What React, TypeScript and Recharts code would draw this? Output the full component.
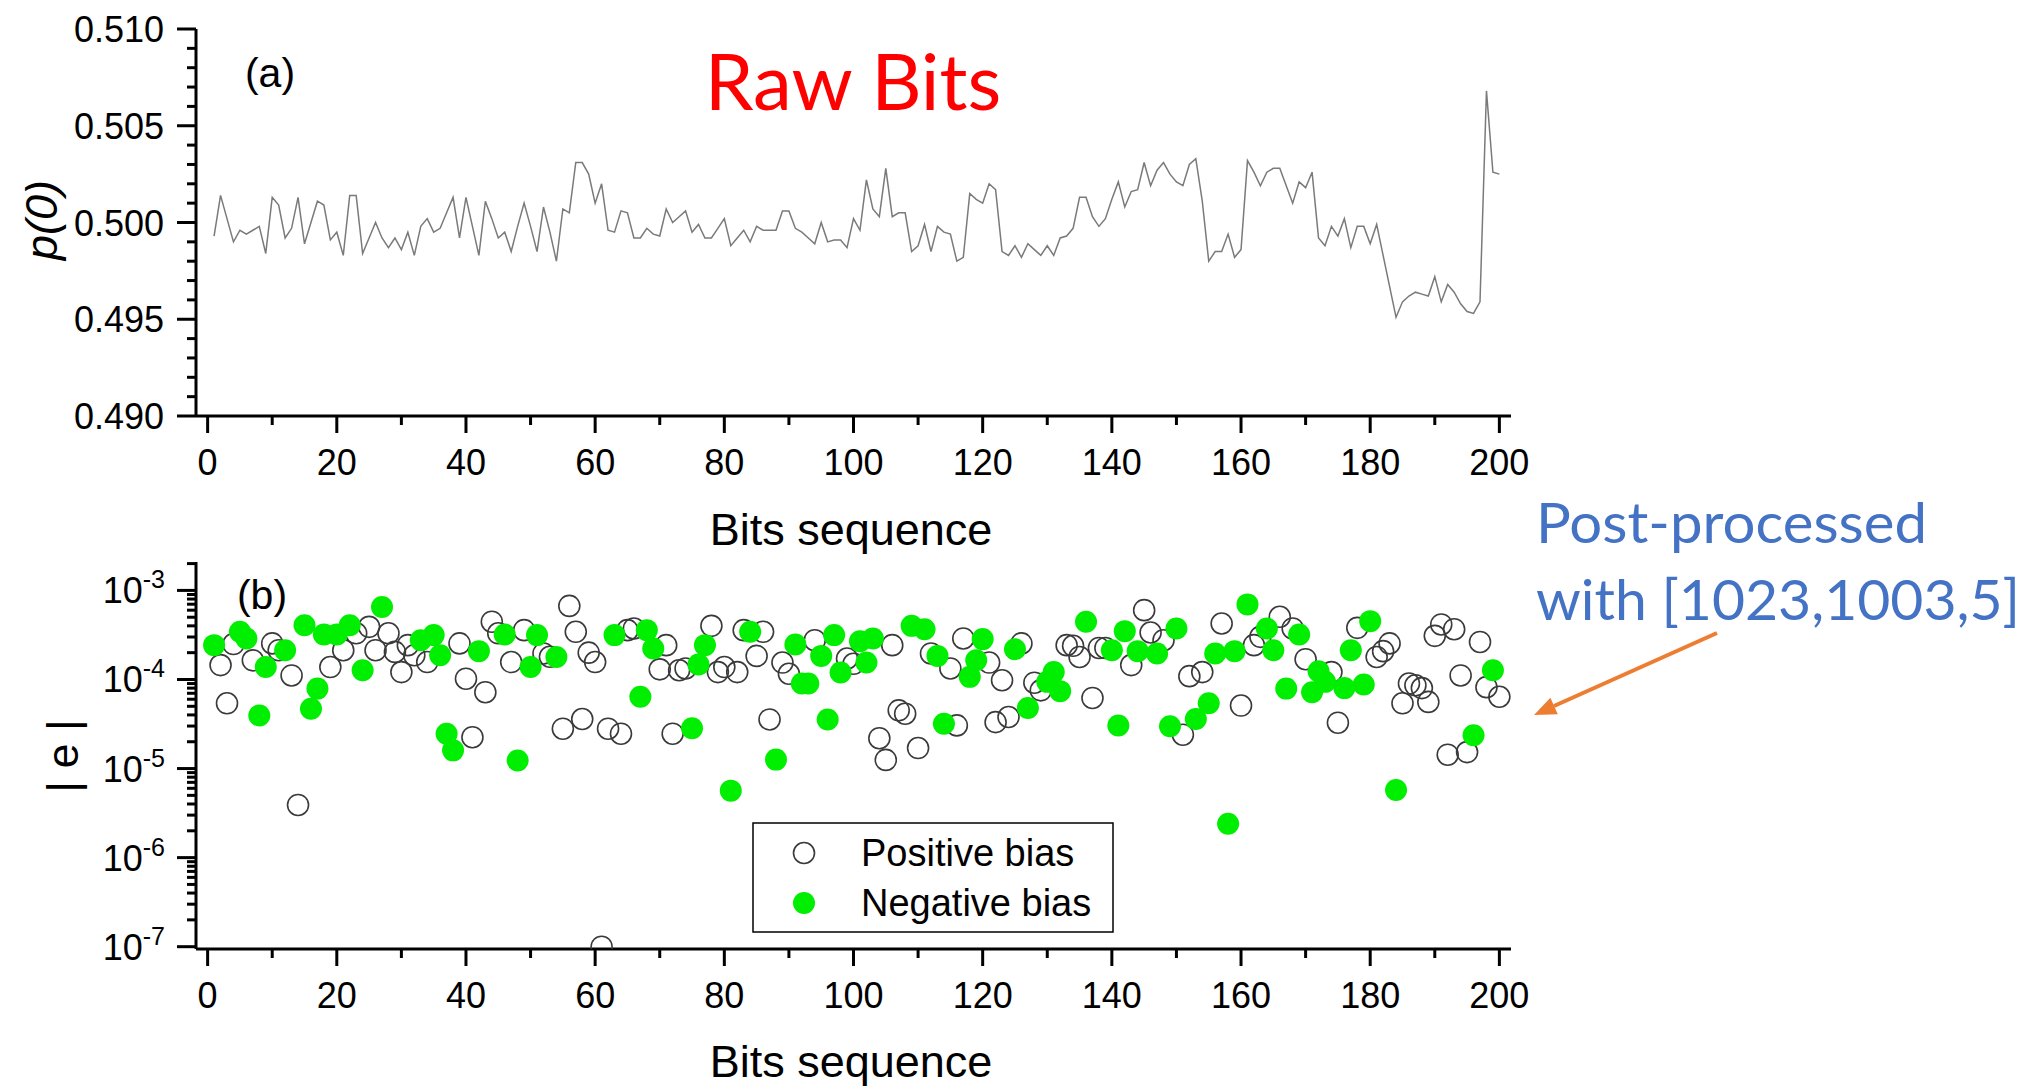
import React from 'react';
import { LineChart, Line, ScatterChart, Scatter, XAxis, YAxis } from 'recharts';

const AXIS_FONT = "'Liberation Sans', Arial, Helvetica, sans-serif";
const NOTE_FONT = "Lato, 'Open Sans', sans-serif";

// (a) p(0) of the raw bits, blocks 1..200
const pZero = [
  0.4993, 0.5014, 0.5002, 0.4990, 0.4996, 0.4994, 0.4996, 0.4998, 0.4984, 0.5013,
  0.5009, 0.4992, 0.4997, 0.5013, 0.4989, 0.5000, 0.5011, 0.5009, 0.4991, 0.4995,
  0.4983, 0.5014, 0.5014, 0.4984, 0.4992, 0.5000, 0.4992, 0.4987, 0.4992, 0.4986,
  0.4995, 0.4983, 0.4998, 0.5002, 0.4995, 0.4997, 0.5005, 0.5013, 0.4992, 0.5013,
  0.4998, 0.4983, 0.5011, 0.5002, 0.4992, 0.4995, 0.4985, 0.4998, 0.5010, 0.4998,
  0.4985, 0.5008, 0.4995, 0.4980, 0.5007, 0.5005, 0.5031, 0.5031, 0.5025, 0.5010,
  0.5020, 0.4996, 0.4995, 0.5006, 0.5005, 0.4992, 0.4992, 0.4997, 0.4994, 0.4993,
  0.5007, 0.5000, 0.5003, 0.5006, 0.4995, 0.4999, 0.4992, 0.4992, 0.4997, 0.5002,
  0.4988, 0.4992, 0.4996, 0.4990, 0.4998, 0.4996, 0.4996, 0.4996, 0.5006, 0.5006,
  0.4997, 0.4995, 0.4992, 0.4989, 0.5000, 0.4990, 0.4991, 0.4991, 0.4987, 0.5002,
  0.4996, 0.5022, 0.5007, 0.5003, 0.5028, 0.5003, 0.5005, 0.5005, 0.4985, 0.4988,
  0.4999, 0.4985, 0.4998, 0.4995, 0.4994, 0.4980, 0.4982, 0.5015, 0.5012, 0.5010,
  0.5020, 0.5017, 0.4985, 0.4983, 0.4988, 0.4982, 0.4989, 0.4986, 0.4983, 0.4988,
  0.4983, 0.4992, 0.4993, 0.4997, 0.5013, 0.5013, 0.5003, 0.4998, 0.5002, 0.5012,
  0.5021, 0.5008, 0.5016, 0.5017, 0.5031, 0.5019, 0.5027, 0.5031, 0.5025, 0.5021,
  0.5019, 0.5030, 0.5033, 0.5011, 0.4980, 0.4985, 0.4985, 0.4994, 0.4982, 0.4986,
  0.5032, 0.5026, 0.5019, 0.5026, 0.5028, 0.5028, 0.5019, 0.5010, 0.5021, 0.5018,
  0.5026, 0.4992, 0.4988, 0.4998, 0.4993, 0.5002, 0.4987, 0.4998, 0.4998, 0.4989,
  0.4999, 0.4983, 0.4967, 0.4951, 0.4959, 0.4962, 0.4964, 0.4963, 0.4962, 0.4972,
  0.4959, 0.4968, 0.4964, 0.4958, 0.4954, 0.4953, 0.4959, 0.5068, 0.5026, 0.5025,
];

// (b) |e| after post-processing, blocks 1..200
const biasAbs = [
  2.43e-4, 1.45e-4, 5.4e-5, 2.5e-4, 3.43e-4, 2.89e-4, 1.64e-4, 3.95e-5, 1.38e-4, 2.54e-4,
  2.13e-4, 2.13e-4, 1.11e-4, 3.9e-6, 4.07e-4, 4.7e-5, 7.9e-5, 3.2e-4, 1.38e-4, 3.2e-4,
  2.13e-4, 4.07e-4, 3.3e-4, 1.27e-4, 3.9e-4, 2.13e-4, 6.5e-4, 3.3e-4, 2.04e-4, 1.21e-4,
  2.43e-4, 1.87e-4, 2.76e-4, 1.57e-4, 3.15e-4, 1.87e-4, 2.46e-5, 1.6e-5, 2.54e-4, 1.02e-4,
  2.25e-5, 2.08e-4, 7.2e-5, 4.45e-4, 3.3e-4, 3.2e-4, 1.57e-4, 1.23e-5, 3.58e-4, 1.38e-4,
  3.15e-4, 1.96e-4, 1.8e-4, 1.79e-4, 2.8e-5, 6.7e-4, 3.43e-4, 3.6e-5, 2.0e-4, 1.57e-4,
  1.0e-7, 2.8e-5, 3.15e-4, 2.46e-5, 3.58e-4, 3.74e-4, 6.4e-5, 3.58e-4, 2.23e-4, 1.3e-4,
  2.43e-4, 2.46e-5, 1.27e-4, 1.33e-4, 2.84e-5, 1.47e-4, 2.43e-4, 4.0e-4, 1.21e-4, 1.38e-4,
  5.65e-6, 1.21e-4, 3.58e-4, 3.43e-4, 1.84e-4, 3.43e-4, 3.56e-5, 1.26e-5, 1.55e-4, 1.16e-4,
  2.47e-4, 9.0e-5, 9.0e-5, 2.76e-4, 1.84e-4, 3.56e-5, 3.15e-4, 1.2e-4, 1.72e-4, 1.5e-4,
  2.69e-4, 1.55e-4, 2.89e-4, 2.19e-5, 1.25e-5, 2.43e-4, 4.5e-5, 4.13e-5, 4.0e-4, 1.7e-5,
  3.67e-4, 1.96e-4, 1.84e-4, 3.18e-5, 1.33e-4, 3.05e-5, 2.89e-4, 1.07e-4, 1.64e-4, 2.84e-4,
  1.55e-4, 3.32e-5, 9.8e-5, 3.79e-5, 2.19e-4, 2.54e-4, 4.78e-5, 9.2e-5, 7.55e-5, 9.4e-5,
  1.21e-4, 7.4e-5, 2.43e-4, 2.39e-4, 1.79e-4, 4.45e-4, 6.2e-5, 2.26e-4, 2.26e-4, 2.13e-4,
  3.05e-5, 3.49e-4, 1.45e-4, 2.08e-4, 6.0e-4, 3.37e-4, 1.96e-4, 2.76e-4, 2.99e-5, 3.74e-4,
  2.4e-5, 1.09e-4, 3.6e-5, 1.21e-4, 5.4e-5, 1.96e-4, 4.25e-4, 2.4e-6, 2.08e-4, 5.1e-5,
  6.97e-4, 2.43e-4, 3.01e-4, 3.74e-4, 2.13e-4, 5.06e-4, 7.9e-5, 3.74e-4, 3.2e-4, 1.69e-4,
  7.2e-5, 1.24e-4, 9.4e-5, 1.21e-4, 3.27e-5, 8.0e-5, 2.13e-4, 3.8e-4, 8.8e-5, 4.52e-4,
  1.79e-4, 2.08e-4, 2.54e-4, 5.75e-6, 5.4e-5, 9.0e-5, 8.6e-5, 8.0e-5, 5.6e-5, 3.09e-4,
  4.15e-4, 1.43e-5, 3.67e-4, 1.11e-4, 1.53e-5, 2.36e-5, 2.64e-4, 8.2e-5, 1.27e-4, 6.4e-5,
];

// p = positive bias (open circle), n = negative bias (green dot)
const biasSign = (
  'npppnnpnnp' + 'pnppnnnnpn' + 'pnpnppnppp' + 'ppnpnnnnpp' + 'pnpppnpnpn' +
  'nppnpppppp' + 'ppnpppnnnp' + 'ppppnnnppp' + 'nppnpppnpp' + 'nnnpnnnnpp' +
  'nnnpppppnp' + 'npnnpppnnn' + 'ppppnpnppn' + 'nnpppnpppn' + 'nnpnppnpnn' +
  'ppnpnnpnnp' + 'nppnnpnpnp' + 'nnnppnnpnn' + 'pppnpppppp' + 'pppppnppnp'
).split('');

const xTicks = [0, 10, 20, 30, 40, 50, 60, 70, 80, 90, 100, 110, 120, 130, 140, 150, 160, 170, 180, 190, 200];
const pTicks = [
  0.490, 0.491, 0.492, 0.493, 0.494, 0.495, 0.496, 0.497, 0.498, 0.499, 0.500,
  0.501, 0.502, 0.503, 0.504, 0.505, 0.506, 0.507, 0.508, 0.509, 0.510,
];
const eDecades = [1e-7, 1e-6, 1e-5, 1e-4, 1e-3];
const eMantissas = [1, 2, 3, 4, 5, 6, 7, 8, 9];
const eTicks = [...eDecades.flatMap((d) => eMantissas.map((m) => m * d)).filter((v) => v <= 1e-3 * 1.001), 2e-3];

const lineData = pZero.map((p, i) => ({ n: i + 1, p }));
const biasData = biasAbs.map((e, i) => ({ n: i + 1, e, s: biasSign[i] }));
const positiveData = biasData.filter((d) => d.s === 'p');
const negativeData = biasData.filter((d) => d.s === 'n');

const X_DOMAIN: [number, number] = [-1.8, 201.8];
const E_DOMAIN: [number, number] = [Math.pow(10, -7.026), Math.pow(10, -2.681)];

const XTick = ({ x, y, payload }: any) => {
  const major = payload.value % 20 === 0;
  return (
    <g>
      <line x1={x} x2={x} y1={y} y2={y + (major ? 17 : 9)} stroke="#000" strokeWidth={3} />
      {major && (
        <text x={x} y={y + 59} textAnchor="middle" fontSize={36} fontFamily={AXIS_FONT} fill="#000">
          {payload.value}
        </text>
      )}
    </g>
  );
};

const PTick = ({ x, y, payload }: any) => {
  const v = payload.value;
  const major = Math.round(v * 1000) % 5 === 0;
  return (
    <g>
      <line x1={x - (major ? 19 : 9)} x2={x} y1={y} y2={y} stroke="#000" strokeWidth={3} />
      {major && (
        <text x={x - 32} y={y + 13} textAnchor="end" fontSize={36} fontFamily={AXIS_FONT} fill="#000">
          {v.toFixed(3)}
        </text>
      )}
    </g>
  );
};

const ETick = ({ x, y, payload }: any) => {
  const v = payload.value;
  const exp = Math.floor(Math.log10(v) + 1e-9);
  const major = Math.abs(v / Math.pow(10, exp) - 1) < 0.01;
  return (
    <g>
      <line x1={x - (major ? 19 : 9)} x2={x} y1={y} y2={y} stroke="#000" strokeWidth={3} />
      {major && (
        <text x={x - 31} y={y + 13} textAnchor="end" fontSize={36} fontFamily={AXIS_FONT} fill="#000">
          10
          <tspan dy={-15} fontSize={25}>{exp}</tspan>
        </text>
      )}
    </g>
  );
};

const HollowDot = ({ cx, cy }: any) => (
  <circle cx={cx} cy={cy} r={10.5} fill="none" stroke="#3a3a3a" strokeWidth={1.6} />
);
const GreenDot = ({ cx, cy }: any) => <circle cx={cx} cy={cy} r={11} fill="#00ee00" />;

const axisLine = { stroke: '#000', strokeWidth: 3 };

const App: React.FC = () => {
  return (
    <div style={{ position: 'absolute', left: 0, top: 0, width: 2026, height: 1089, background: '#fff', overflow: 'hidden' }}>
      <div style={{ position: 'absolute', left: 0, top: 0 }}>
        <LineChart width={2026} height={540} data={lineData} margin={{ top: 29, right: 515, left: 0, bottom: 0 }}>
          <XAxis
            dataKey="n"
            type="number"
            domain={X_DOMAIN}
            ticks={xTicks}
            interval={0}
            height={124}
            tickSize={0}
            tickMargin={0}
            tickLine={false}
            axisLine={axisLine}
            tick={(props: any) => <XTick {...props} />}
            allowDataOverflow
          />
          <YAxis
            type="number"
            domain={[0.49, 0.51]}
            ticks={pTicks}
            interval={0}
            width={196}
            tickSize={0}
            tickMargin={0}
            tickLine={false}
            axisLine={axisLine}
            tick={(props: any) => <PTick {...props} />}
            allowDataOverflow
          />
          <Line dataKey="p" stroke="#7a7a7a" strokeWidth={1.5} dot={false} isAnimationActive={false} />
        </LineChart>
      </div>

      <div style={{ position: 'absolute', left: 0, top: 540 }}>
        <ScatterChart width={2026} height={549} margin={{ top: 22, right: 515, left: 0, bottom: 0 }}>
          <XAxis
            dataKey="n"
            type="number"
            domain={X_DOMAIN}
            ticks={xTicks}
            interval={0}
            height={140}
            tickSize={0}
            tickMargin={0}
            tickLine={false}
            axisLine={axisLine}
            tick={(props: any) => <XTick {...props} />}
            allowDataOverflow
          />
          <YAxis
            dataKey="e"
            type="number"
            scale="log"
            domain={E_DOMAIN}
            ticks={eTicks}
            interval={0}
            width={196}
            tickSize={0}
            tickMargin={0}
            tickLine={false}
            axisLine={axisLine}
            tick={(props: any) => <ETick {...props} />}
            allowDataOverflow
          />
          <Scatter name="Positive bias" data={positiveData} shape={(p: any) => <HollowDot {...p} />} isAnimationActive={false} />
          <Scatter name="Negative bias" data={negativeData} shape={(p: any) => <GreenDot {...p} />} isAnimationActive={false} />
        </ScatterChart>
      </div>

      <svg width={2026} height={1089} style={{ position: 'absolute', left: 0, top: 0, pointerEvents: 'none' }}>
        <g fontFamily={AXIS_FONT} fill="#000">
          <text x={270} y={87} fontSize={41} textAnchor="middle">(a)</text>
          <text x={262} y={609} fontSize={41} textAnchor="middle">(b)</text>
          <text x={851} y={545} fontSize={45} textAnchor="middle">Bits sequence</text>
          <text x={851} y={1077} fontSize={45} textAnchor="middle">Bits sequence</text>
          <text transform="translate(57,220) rotate(-90)" fontSize={45} fontStyle="italic" textAnchor="middle">p(0)</text>
          <text transform="translate(78,756) rotate(-90)" fontSize={45} textAnchor="middle">| e |</text>
        </g>

        <g>
          <rect x={753} y={823} width={360} height={109} fill="#fff" stroke="#000" strokeWidth={1.5} />
          <circle cx={804} cy={853} r={10.5} fill="none" stroke="#3a3a3a" strokeWidth={1.6} />
          <circle cx={804} cy={903} r={11} fill="#00ee00" />
          <text x={861} y={866} fontSize={38} fontFamily={AXIS_FONT} fill="#000">Positive bias</text>
          <text x={861} y={916} fontSize={38} fontFamily={AXIS_FONT} fill="#000">Negative bias</text>
        </g>

        <text x={853} y={110} fontSize={78} fontFamily={NOTE_FONT} fill="#ff0000" textAnchor="middle">Raw Bits</text>
        <text x={1536} y={543} fontSize={57} fontFamily={NOTE_FONT} fill="#4472c4" textLength={391} lengthAdjust="spacingAndGlyphs">
          Post-processed
        </text>
        <text x={1536} y={620} fontSize={57} fontFamily={NOTE_FONT} fill="#4472c4" textLength={484} lengthAdjust="spacingAndGlyphs">
          with [1023,1003,5]
        </text>

        <line x1={1717} y1={633} x2={1554} y2={706} stroke="#ed7d31" strokeWidth={4} />
        <polygon points="1534,715 1557.8,714.2 1550.4,697.8" fill="#ed7d31" />
      </svg>
    </div>
  );
};

export default App;
